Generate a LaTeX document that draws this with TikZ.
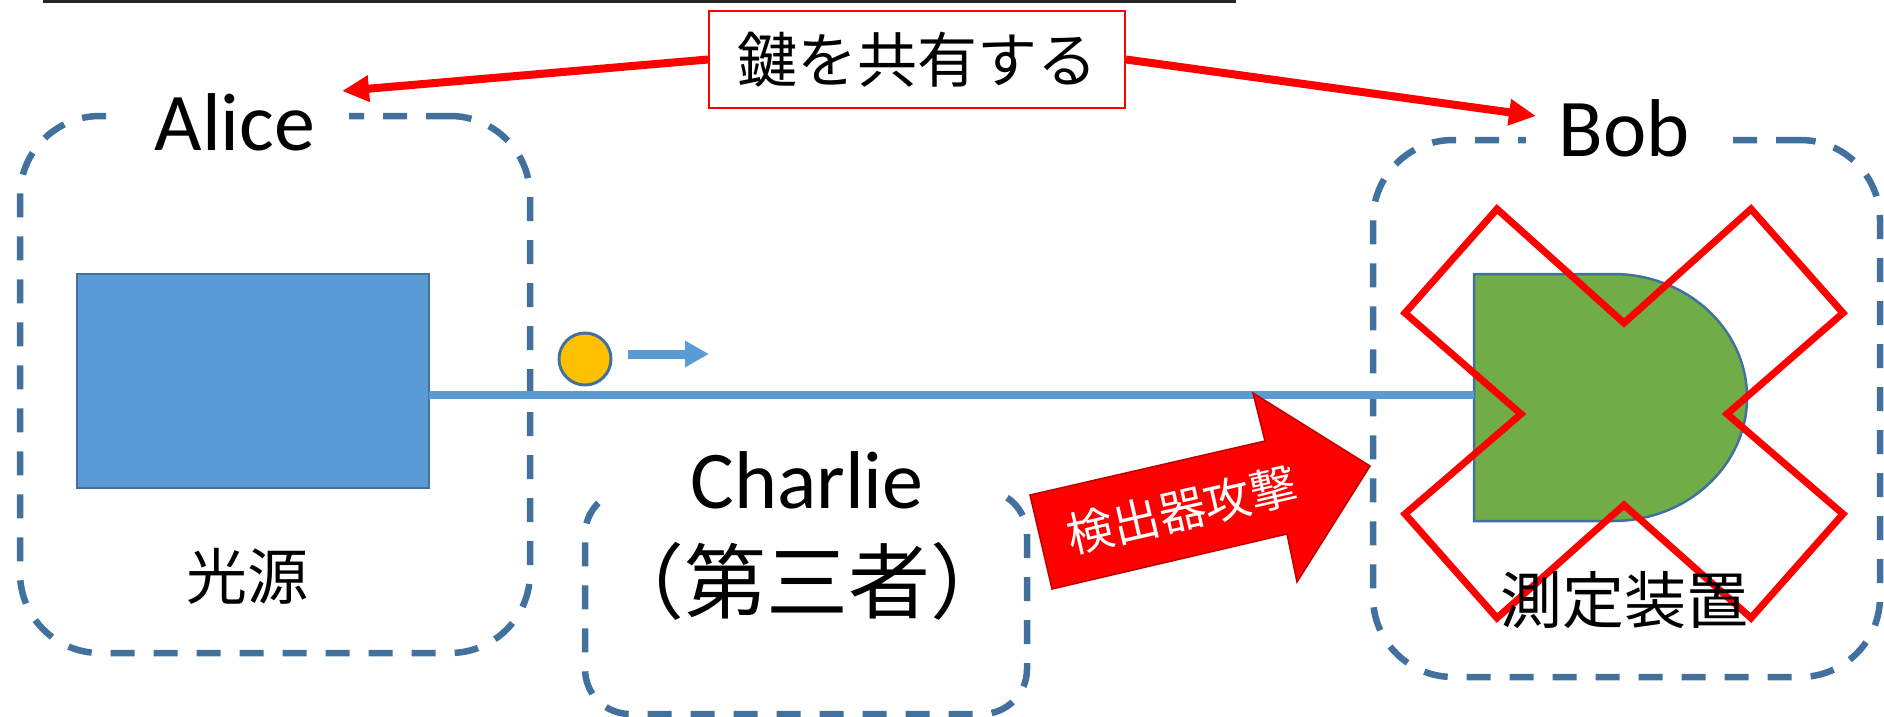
\documentclass[tikz,border=0pt]{standalone}
\usepackage{fontspec}
\setmainfont{Carlito}
\newfontfamily\jp{Noto Sans CJK JP}
\usetikzlibrary{arrows.meta}
\definecolor{boxblue}{HTML}{41719C}
\definecolor{srcblue}{HTML}{5B9BD5}
\definecolor{detgreen}{HTML}{70AD47}
\definecolor{photon}{HTML}{FFC000}
\definecolor{darkred}{HTML}{C00000}
\begin{document}
\begin{tikzpicture}[x=1pt,y=-1pt,
  dbox/.style={draw=boxblue, line width=6.5pt, dash pattern=on 24pt off 19pt, rectangle, rounded corners=80pt, inner sep=0pt, outer sep=0pt},
  latlbl/.style={font=\fontsize{82}{90}\selectfont, text=black, fill=white, inner ysep=2pt},
  jplbl/.style={font=\jp\fontsize{62}{70}\selectfont, text=black, inner sep=0pt},
  keyarrow/.style={draw=red, line width=8pt, -{Triangle[length=27pt,width=25pt]}},
  beam/.style={draw=srcblue, line width=8.5pt},
  crossline/.style={draw=red, line width=7pt, line join=miter}
]
\useasboundingbox (0,0) rectangle (1884,717);

% top rule
\coordinate (r1) at (43,1.5);
\coordinate (r2) at (1236,1.5);
\draw[line width=3pt, black!85] (r1) -- (r2);

% dashed containers
\node[dbox, minimum width=510pt, minimum height=537pt] (alicebox) at (275,384.5) {};
\node[dbox, minimum width=507pt, minimum height=537pt] (bobbox) at (1626.5,408.5) {};
\node[dbox, rounded corners=45pt, minimum width=442pt, minimum height=224pt] (charliebox) at (806,602) {};
\node[fill=white, minimum width=394pt, minimum height=24pt, inner sep=0pt] (charliegap) at (807,490) {};

% party labels
\node[latlbl, anchor=base, inner xsep=34pt] (alice) at (235,150) {Alice};
\node[latlbl, anchor=base, inner xsep=33pt] (bob) at (1624,156) {Bob};
\node[font=\fontsize{82}{90}\selectfont, anchor=base, inner sep=0pt] (charlie) at (807,508) {Charlie};
\node[jplbl, font=\jp\fontsize{82}{90}\selectfont] (third) at (807,581) {（第三者）};

% key sharing
\node[draw=red, line width=2pt, fill=white, minimum width=416pt, minimum height=97pt, inner sep=0pt, font=\jp\fontsize{60}{66}\selectfont] (key) at (917,59.5) {鍵を共有する};
\coordinate (aliceIn) at (342,91);
\coordinate (bobIn) at (1536,116);
\draw[keyarrow] (key.west) -- (aliceIn);
\draw[keyarrow] (key.east) -- (bobIn);

% light source
\node[draw=boxblue, line width=2.5pt, fill=srcblue, minimum width=352pt, minimum height=214pt, inner sep=0pt, outer sep=0pt] (src) at (253,381) {};
\node[jplbl, font=\jp\fontsize{61}{68}\selectfont] (srclbl) at (247,576) {光源};

% detector (D shape)
\draw[draw=boxblue, line width=2.5pt, fill=detgreen]
  (1474,274) -- (1613,274)
  .. controls (1687,274) and (1747,329.3) .. (1747,397.5)
  .. controls (1747,465.7) and (1687,521) .. (1613,521)
  -- (1474,521) -- cycle;
\coordinate (detw) at (1474,395);

% beam
\draw[beam] (src.east |- detw) -- (detw);

% photon
\node[circle, draw=boxblue, line width=3pt, fill=photon, minimum size=52pt, inner sep=0pt] (ph) at (585,359) {};
\coordinate (p1) at (628,354);
\coordinate (p2) at (709,354);
\draw[draw=srcblue, line width=9pt, -{Triangle[length=24pt,width=25pt]}] (p1) -- (p2);

% red cross over detector
\draw[crossline] (1497,209) -- (1624,323) -- (1751,209) -- (1843,313) -- (1727,414)
  -- (1843,514) -- (1751,618) -- (1624,505) -- (1497,618) -- (1405,514)
  -- (1521,414) -- (1405,313) -- cycle;
\node[jplbl] (detlbl) at (1624,600) {測定装置};

% detector attack block arrow
\draw[fill=red, draw=darkred, line width=1.5pt, line join=miter]
  (1030,495) -- (1265,441) -- (1253,393) -- (1370,466) -- (1297,582) -- (1287,534) -- (1052,589) -- cycle;
\node[rotate=13, text=white, font=\jp\fontsize{47}{52}\selectfont, inner sep=0pt] (atk) at (1182,510) {検出器攻撃};

\end{tikzpicture}
\end{document}
